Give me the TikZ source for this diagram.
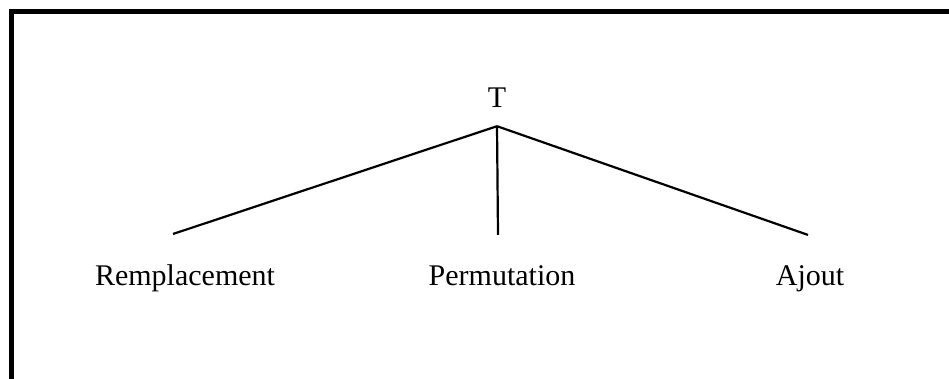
\documentclass[tikz,border=0pt]{standalone}
\usepackage{fontspec}
\setmainfont{Liberation Serif}
\begin{document}
\begin{tikzpicture}[x=1pt,y=-1pt,
        leaf/.style={anchor=base,inner xsep=0pt,inner ysep=30pt,font=\fontsize{30}{36}\selectfont},
        branch/.style={line width=2.2}]
        %\draw [very thin, green]  (0,0) grid (949,379);
        \useasboundingbox (0,0) rectangle (949,379);
        \clip (0,0) rectangle (949,379);
        \draw [line width=5] (11,400) -- (11,12) -- (960,12);

        \node at (497,108) [anchor=base,inner sep=18pt,font=\fontsize{30}{36}\selectfont] (t) {T};

        \node at (185,285) [leaf] (rempl) {Remplacement};
        \node at (502,285) [leaf] (perm) {Permutation};
        \node at (810,285) [leaf] (ajout) {Ajout};

        \draw [branch] (t.south) -- ([xshift=-12pt]rempl.north);
        \draw [branch] (t.south) -- ([xshift=-4pt]perm.north);
        \draw [branch] (t.south) -- ([xshift=-2pt]ajout.north);
    \end{tikzpicture}
\end{document}
